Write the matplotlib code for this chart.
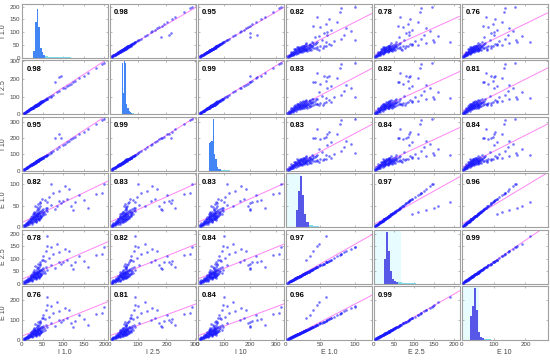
import numpy as np
import matplotlib.pyplot as plt

plt.rcParams['font.family'] = ['Liberation Sans', 'DejaVu Sans']

names = ['I 1.0', 'I 2.5', 'I 10', 'E 1.0', 'E 2.5', 'E 10']

# one value per sample
i_1_0 = [4, 6, 8, 9, 10, 11, 12, 13, 14, 15,
         16, 17, 18, 19, 20, 21, 22, 23, 24, 25,
         26, 27, 28, 29, 30, 31, 32, 33, 34, 35,
         36, 37, 38, 39, 40, 41, 42, 43, 44, 45,
         46, 47, 48, 49, 50, 52, 54, 56, 58, 60,
         28, 31, 33, 35, 37, 39, 30, 34, 36, 40,
         42, 44, 26, 38, 46, 32, 20, 24, 29, 41,
         45, 55, 60, 85, 58, 50, 65, 75, 70, 52,
         48, 90, 100, 110, 120, 130, 150, 180, 195, 140,
         160, 95, 90, 80, 105, 70, 115, 200, 125, 62,
         5, 7, 9, 12, 15, 18, 21, 23, 25, 27,
         29, 31, 33, 35, 37, 39, 41, 43, 45, 47,
         30, 34, 38, 42, 22, 26, 36, 40, 32, 44]
i_2_5 = [6, 9, 11, 12, 15, 17, 17, 18, 21, 22,
         24, 25, 25, 28, 30, 30, 33, 33, 34, 37,
         38, 40, 41, 41, 44, 46, 46, 49, 50, 50,
         54, 54, 55, 58, 59, 61, 61, 63, 66, 65,
         68, 70, 70, 73, 73, 77, 78, 83, 84, 89,
         40, 46, 49, 52, 55, 58, 43, 49, 52, 58,
         61, 64, 37, 55, 67, 46, 28, 34, 41, 59,
         65, 80, 88, 124, 84, 73, 95, 109, 102, 76,
         70, 131, 146, 160, 174, 190, 218, 262, 284, 203,
         232, 215, 210, 180, 150, 100, 168, 292, 183, 90,
         8, 9, 12, 19, 20, 28, 29, 35, 34, 41,
         40, 48, 45, 55, 52, 60, 57, 67, 62, 73,
         47, 47, 58, 58, 34, 36, 56, 55, 50, 68]
i_10 = [7, 10, 13, 15, 16, 19, 19, 22, 22, 24,
        27, 27, 28, 32, 32, 35, 35, 38, 37, 41,
        42, 44, 45, 47, 48, 51, 50, 54, 55, 57,
        58, 60, 60, 64, 64, 67, 67, 70, 71, 74,
        73, 77, 77, 80, 80, 85, 86, 91, 93, 98,
        44, 50, 54, 57, 60, 63, 47, 54, 57, 64,
        67, 70, 41, 61, 73, 51, 31, 38, 46, 65,
        72, 88, 96, 136, 93, 80, 104, 120, 112, 83,
        77, 144, 160, 176, 192, 208, 240, 288, 312, 224,
        256, 200, 225, 200, 165, 110, 184, 320, 200, 99,
        9, 11, 14, 20, 24, 30, 35, 36, 41, 42,
        47, 49, 55, 56, 61, 62, 68, 69, 74, 75,
        48, 56, 61, 69, 35, 43, 58, 66, 51, 71]
e_1_0 = [3, 4, 5, 7, 6, 9, 8, 10, 7, 12,
         11, 9, 14, 12, 16, 13, 18, 15, 11, 20,
         17, 22, 19, 14, 24, 21, 26, 18, 28, 23,
         30, 25, 20, 32, 27, 34, 29, 22, 36, 31,
         38, 26, 40, 33, 28, 42, 35, 30, 44, 38,
         21, 17, 25, 19, 28, 24, 27, 15, 31, 21,
         37, 26, 24, 33, 24, 30, 18, 8, 33, 18,
         55, 62, 45, 48, 40, 35, 70, 80, 52, 30,
         66, 85, 60, 65, 50, 58, 62, 78, 80, 75,
         45, 55, 60, 42, 95, 100, 88, 100, 40, 58,
         6, 2, 10, 5, 15, 8, 20, 11, 26, 13,
         30, 19, 35, 14, 40, 18, 45, 21, 50, 25,
         36, 12, 42, 16, 24, 31, 46, 54, 48, 58]
e_2_5 = [4, 6, 7, 10, 9, 13, 11, 14, 10, 17,
         16, 13, 20, 18, 23, 19, 26, 22, 16, 29,
         25, 32, 28, 21, 35, 31, 38, 26, 41, 34,
         44, 37, 29, 47, 40, 50, 43, 32, 53, 46,
         56, 38, 59, 49, 41, 62, 52, 44, 65, 56,
         31, 25, 37, 28, 41, 35, 39, 22, 45, 31,
         54, 38, 35, 48, 35, 44, 26, 12, 48, 26,
         80, 90, 150, 160, 130, 110, 102, 118, 76, 95,
         96, 125, 88, 95, 73, 85, 90, 115, 117, 110,
         66, 80, 88, 62, 140, 148, 130, 146, 60, 190,
         9, 3, 15, 7, 22, 12, 29, 16, 38, 19,
         44, 28, 51, 21, 59, 26, 66, 31, 73, 37,
         53, 18, 62, 23, 35, 46, 68, 79, 70, 85]
e_10 = [5, 7, 8, 11, 10, 15, 13, 16, 12, 20,
        18, 15, 23, 20, 26, 22, 30, 25, 19, 33,
        28, 37, 32, 24, 40, 35, 43, 30, 47, 39,
        50, 42, 34, 54, 45, 57, 49, 37, 61, 52,
        64, 44, 68, 56, 47, 71, 59, 51, 74, 64,
        36, 29, 42, 32, 47, 40, 45, 26, 52, 35,
        62, 44, 40, 55, 40, 50, 30, 14, 55, 30,
        92, 104, 175, 190, 150, 128, 118, 136, 88, 110,
        110, 145, 101, 110, 84, 98, 104, 132, 135, 126,
        76, 92, 101, 71, 160, 170, 150, 168, 68, 215,
        10, 4, 17, 8, 25, 14, 33, 19, 44, 22,
        50, 32, 59, 24, 67, 30, 76, 35, 84, 42,
        60, 20, 71, 27, 40, 52, 78, 91, 81, 98]

corr_text = [['', '0.98', '0.95', '0.82', '0.78', '0.76'],
             ['0.98', '', '0.99', '0.83', '0.82', '0.81'],
             ['0.95', '0.99', '', '0.83', '0.84', '0.84'],
             ['0.82', '0.83', '0.83', '', '0.97', '0.96'],
             ['0.78', '0.82', '0.84', '0.97', '', '0.99'],
             ['0.76', '0.81', '0.84', '0.96', '0.99', '']]

# diagonal histograms (heights on the row scale)
hist_start = [28, 42, 42, 15, 25, 27]
hist_width = [4, 4, 5, 3, 5, 6]
hist_counts = [
    [25, 140, 192, 120, 40, 22, 10, 6, 5, 4, 3, 3, 2, 2, 2, 2, 1, 1, 1, 1, 1, 1, 1],
    [290, 120, 300, 290, 60, 35, 20, 10, 8, 6, 5, 4, 3, 3, 2, 2, 2, 1, 1, 1, 1, 1],
    [170, 175, 180, 320, 100, 70, 25, 12, 8, 6, 5, 4, 3, 3, 2, 2, 1, 1, 1, 1, 1],
    [40, 85, 120, 75, 30, 12, 6, 4, 3, 2, 2, 1, 1, 1, 1, 1],
    [100, 205, 130, 50, 20, 12, 8, 6, 5, 4, 3, 3, 2, 2, 1, 1],
    [120, 170, 262, 150, 40, 15, 8, 6, 5, 4, 3, 2, 2, 1, 1],
]
band_end = [0, 0, 0, 22, 67, 53]

limits = [210, 305, 330, 125, 215, 270]
ticks = [[0, 50, 100, 150, 200], [0, 100, 200, 300], [0, 100, 200, 300],
         [0, 50, 100], [0, 50, 100, 150, 200], [0, 100, 200]]

data = [i_1_0, i_2_5, i_10, e_1_0, e_2_5, e_10]
bar_colors = ['#4285f4', '#4285f4', '#4285f4', '#5858e8', '#5858e8', '#5858e8']

fig, axes = plt.subplots(6, 6, figsize=(5.5, 3.61), dpi=100)
fig.subplots_adjust(left=0.04, right=0.996, top=0.989, bottom=0.058,
                    wspace=0.02, hspace=0.05)

for r in range(6):
    for c in range(6):
        ax = axes[r, c]
        if r == c:
            counts = hist_counts[r]
            edges = hist_start[r] + hist_width[r] * np.arange(len(counts))
            if band_end[r] > 0:
                ax.axvspan(0, band_end[r], color='#e6fcff', lw=0, zorder=0)
            cols = [bar_colors[r] if v > 6 else '#7fdcec' for v in counts]
            ax.bar(edges, counts, width=hist_width[r], align='edge',
                   color=cols, lw=0, zorder=2)
        else:
            x = np.array(data[c], dtype=float)
            y = np.array(data[r], dtype=float)
            ax.scatter(x, y, s=3.5, color='#1a1aff', alpha=0.6, lw=0, zorder=3)
            k, b = np.polyfit(x, y, 1)
            xx = np.array([0, limits[c]])
            ax.plot(xx, k * xx + b, color='#ff70f2', lw=0.7, alpha=0.85, zorder=2)
            ax.text(0.05, 0.9, corr_text[r][c], transform=ax.transAxes,
                    fontsize=5.5, fontweight='bold', va='top', zorder=4)
        ax.set_xlim(0, limits[c])
        ax.set_ylim(0, limits[r])
        ax.set_xticks(ticks[c])
        ax.set_yticks(ticks[r])
        ax.tick_params(direction='in', length=1.5, width=0.4, labelsize=4.5,
                       top=True, right=True, color='#888888',
                       labelcolor='#444444', pad=1.5,
                       labelleft=(c == 0), labelbottom=(r == 5))
        for sp in ax.spines.values():
            sp.set_color('#a0a0a0')
            sp.set_linewidth(0.8)
        if c == 0:
            ax.set_ylabel(names[r], fontsize=5, color='#444444', labelpad=1.5)
        if r == 5:
            ax.set_xlabel(names[c], fontsize=5, color='#444444', labelpad=1)

fig.savefig('out.png', dpi=100)
